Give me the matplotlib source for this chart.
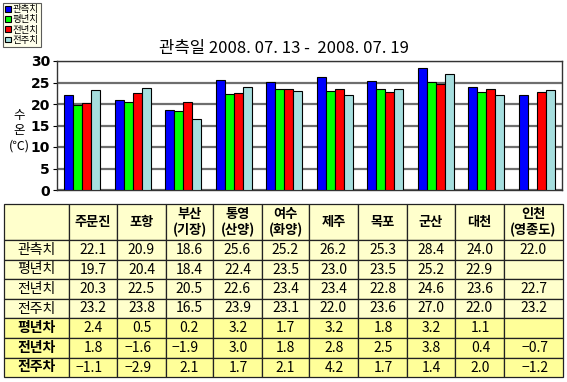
import numpy as np
import matplotlib
matplotlib.use("Agg")
import matplotlib.pyplot as plt
from matplotlib.patches import Rectangle

plt.rcParams['font.family'] = ['Noto Sans CJK KR', 'DejaVu Sans']

stations = ["주문진", "포항", "부산\n(기장)", "통영\n(산양)", "여수\n(화양)",
            "제주", "목포", "군산", "대천", "인천\n(영종도)"]
series_names = ["관측치", "평년치", "전년치", "전주치"]
observed = [22.1, 20.9, 18.6, 25.6, 25.2, 26.2, 25.3, 28.4, 24.0, 22.0]
normal = [19.7, 20.4, 18.4, 22.4, 23.5, 23.0, 23.5, 25.2, 22.9, np.nan]
last_year = [20.3, 22.5, 20.5, 22.6, 23.4, 23.4, 22.8, 24.6, 23.6, 22.7]
last_week = [23.2, 23.8, 16.5, 23.9, 23.1, 22.0, 23.6, 27.0, 22.0, 23.2]
diff_names = ["평년차", "전년차", "전주차"]
diff_normal = ["2.4", "0.5", "0.2", "3.2", "1.7", "3.2", "1.8", "3.2", "1.1", ""]
diff_year = ["1.8", "−1.6", "−1.9", "3.0", "1.8", "2.8", "2.5", "3.8", "0.4", "−0.7"]
diff_week = ["−1.1", "−2.9", "2.1", "1.7", "2.1", "4.2", "1.7", "1.4", "2.0", "−1.2"]
yticks = [0, 5, 10, 15, 20, 25, 30]
title = "관측일 2008. 07. 13 -  2008. 07. 19"

colors = ["#0000FF", "#00FF00", "#FF0000", "#A6DEDE"]
W, H = 567, 382
fig = plt.figure(figsize=(W / 100, H / 100), dpi=100)

def fx(x): return x / W
def fy(y): return 1 - y / H

# ---- chart ----
ax = fig.add_axes([fx(57), fy(190), fx(562 - 57), (190 - 61) / H])
series = [observed, normal, last_year, last_week]
x = np.arange(len(stations))
bw = 0.18
for i, (vals, c) in enumerate(zip(series, colors)):
    ax.bar(x + (i - 1.5) * bw, vals, width=bw, color=c, edgecolor="black",
           linewidth=0.8, zorder=3, label=series_names[i])
ax.set_xlim(-0.5, len(stations) - 0.5)
ax.set_ylim(0, 30)
ax.set_yticks(yticks)
ax.set_yticklabels([str(t) for t in yticks], fontsize=10, fontweight="bold",
                   family="DejaVu Sans")
ax.set_xticks([])
ax.yaxis.grid(True, color="#6e6e6e", linewidth=1.6, zorder=0)
ax.set_axisbelow(True)
ax.tick_params(axis="y", length=3, pad=2)
for s in ax.spines.values():
    s.set_color("#333333")
    s.set_linewidth(1.0)

fig.text(fx(19), fy(131), "수\n온\n(℃)", ha="center", va="center",
         fontsize=9, linespacing=1.25)

fig.text(0.5, fy(48), title, ha="center", va="center", fontsize=12)

# legend
leg = fig.legend(handles=ax.containers, labels=series_names,
                 loc="upper left", bbox_to_anchor=(fx(3), fy(3)),
                 fontsize=6.8, frameon=True, handlelength=0.55, handleheight=0.55,
                 handletextpad=0.25, borderpad=0.25, labelspacing=0.12,
                 borderaxespad=0, fancybox=False)
leg.get_frame().set_facecolor("#FFFFE6")
leg.get_frame().set_edgecolor("#333333")
leg.get_frame().set_linewidth(0.8)

# ---- table ----
tax = fig.add_axes([0, 0, 1, 1])
tax.set_xlim(0, W)
tax.set_ylim(H, 0)
tax.axis("off")

col_edges = [4, 69, 117, 166, 213, 262, 309, 358, 407, 455, 504, 563]
row_edges = [204, 240, 260, 279, 299, 318, 338, 358, 377]
light = "#FFFFCC"
dark = "#FFFF99"

for r in range(len(row_edges) - 1):
    for c in range(len(col_edges) - 1):
        fc = dark if r >= 5 else light
        tax.add_patch(Rectangle((col_edges[c], row_edges[r]),
                                col_edges[c + 1] - col_edges[c],
                                row_edges[r + 1] - row_edges[r],
                                facecolor=fc, edgecolor="#222222", linewidth=0.9))

def cell_center(r, c):
    return ((col_edges[c] + col_edges[c + 1]) / 2,
            (row_edges[r] + row_edges[r + 1]) / 2)

for c, name in enumerate(stations):
    cx, cy = cell_center(0, c + 1)
    tax.text(cx, cy, name, ha="center", va="center", fontsize=9.5,
             fontweight="bold", linespacing=1.15)

data_rows = [observed, normal, last_year, last_week]
for r, (name, vals) in enumerate(zip(series_names, data_rows)):
    cx, cy = cell_center(r + 1, 0)
    tax.text(cx, cy, name, ha="center", va="center", fontsize=10)
    for c, v in enumerate(vals):
        if np.isnan(v):
            continue
        cx, cy = cell_center(r + 1, c + 1)
        tax.text(cx, cy, f"{v:.1f}", ha="center", va="center", fontsize=10)

diff_rows = [diff_normal, diff_year, diff_week]
for k, (name, vals) in enumerate(zip(diff_names, diff_rows)):
    r = 5 + k
    cx, cy = cell_center(r, 0)
    tax.text(cx, cy, name, ha="center", va="center", fontsize=10, fontweight="bold")
    for c, v in enumerate(vals):
        if not v:
            continue
        _, cy = cell_center(r, c + 1)
        tax.text(col_edges[c + 2] - 14, cy, v, ha="right", va="center", fontsize=10)

fig.savefig("out.png", dpi=100, facecolor="white")
